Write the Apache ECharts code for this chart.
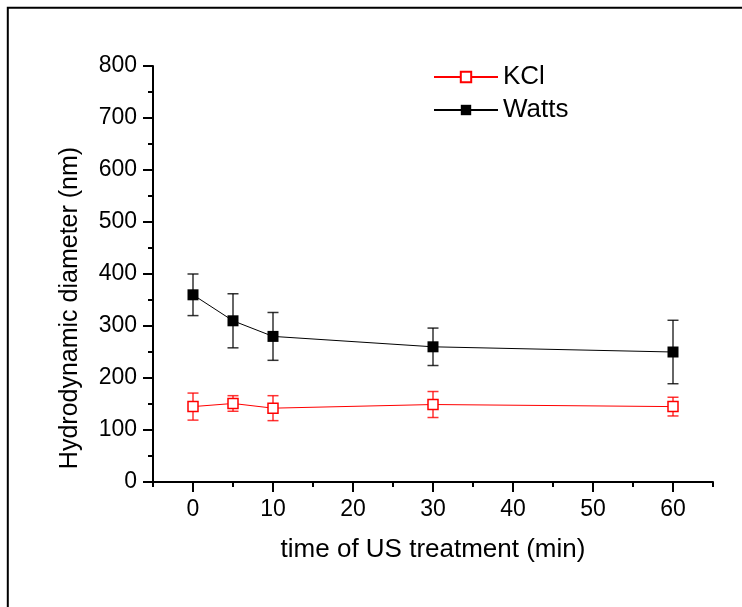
<!DOCTYPE html>
<html>
<head>
<meta charset="utf-8">
<script src="https://cdn.jsdelivr.net/npm/echarts@6/dist/echarts.min.js"></script>
<style>
  html, body { margin: 0; padding: 0; background: #fff; }
  #chart { width: 742px; height: 607px; }
</style>
</head>
<body>
<div id="chart"></div>
<script>
  // data
  const times = [0, 5, 10, 30, 60]
  const kclMean = [145, 151, 142, 149, 145]
  const kclErr = [26, 15, 24, 25, 18]
  const wattsMean = [360, 310, 280, 260, 250]
  const wattsErr = [40, 52, 46, 36, 61]
  const xMajorTicks = [0, 10, 20, 30, 40, 50, 60]

  const font = 'Liberation Sans'

  const chart = echarts.init(document.getElementById('chart'))

  // error bars through the axes' own coords
  function errorBars(means, errs, color) {
    return {
      type: 'custom',
      silent: true,
      z: 1,
      data: times.map((t, i) => [t, means[i] - errs[i], means[i] + errs[i]]),
      encode: { x: 0, y: [1, 2] },
      renderItem: (params, api) => {
        const lo = api.coord([api.value(0), api.value(1)])
        const hi = api.coord([api.value(0), api.value(2)])
        const w = 5.5
        const style = { stroke: color, lineWidth: 1.5, opacity: 0.8 }
        return {
          type: 'group',
          children: [
            { type: 'line', shape: { x1: hi[0], y1: hi[1], x2: lo[0], y2: lo[1] }, style },
            { type: 'line', shape: { x1: hi[0] - w, y1: hi[1], x2: hi[0] + w, y2: hi[1] }, style },
            { type: 'line', shape: { x1: lo[0] - w, y1: lo[1], x2: lo[0] + w, y2: lo[1] }, style }
          ]
        }
      }
    }
  }

  chart.setOption({
    animation: false,
    backgroundColor: '#fff',
    textStyle: { fontFamily: font, color: '#000' },
    grid: { left: 153, right: 29, top: 66, bottom: 125 },
    graphic: [
      {
        type: 'rect',
        shape: { x: 7.8, y: 7.8, width: 900, height: 900 },
        style: { fill: 'none', stroke: '#000', lineWidth: 2 },
        silent: true
      },
      {
        type: 'text',
        x: 70,
        y: 308,
        rotation: Math.PI / 2,
        style: {
          text: 'Hydrodynamic diameter (nm)',
          font: '25px "Liberation Sans"',
          fill: '#000',
          align: 'center',
          verticalAlign: 'middle'
        }
      }
    ],
    legend: {
      data: ['KCl', 'Watts'],
      orient: 'vertical',
      left: 433,
      top: 64,
      padding: 0,
      itemWidth: 64,
      itemHeight: 13,
      itemGap: 7,
      textStyle: { fontFamily: font, fontSize: 26, color: '#000' }
    },
    xAxis: [
      {
        type: 'value',
        min: -5,
        max: 65,
        name: 'time of US treatment (min)',
        nameLocation: 'middle',
        nameGap: 55,
        nameTextStyle: { fontFamily: font, fontSize: 26, color: '#000' },
        splitLine: { show: false },
        axisLine: { lineStyle: { color: '#000', width: 2 } },
        axisTick: { customValues: xMajorTicks, length: 10, lineStyle: { color: '#000', width: 2 } },
        axisLabel: { customValues: xMajorTicks, margin: 16, fontSize: 23, color: '#000', fontFamily: font }
      },
      {
        // minor ticks every 5
        type: 'value',
        min: -5,
        max: 65,
        interval: 5,
        position: 'bottom',
        splitLine: { show: false },
        axisLine: { show: false },
        axisTick: { length: 5, lineStyle: { color: '#000', width: 2 } },
        axisLabel: { show: false }
      }
    ],
    yAxis: {
      type: 'value',
      min: 0,
      max: 800,
      interval: 100,
      splitLine: { show: false },
      axisLine: { show: true, onZero: false, lineStyle: { color: '#000', width: 2 } },
      axisTick: { show: true, length: 10, lineStyle: { color: '#000', width: 2 } },
      minorTick: { show: true, splitNumber: 2, length: 5, lineStyle: { color: '#000', width: 2 } },
      axisLabel: { margin: 16, fontSize: 23, color: '#000', fontFamily: font }
    },
    series: [
      errorBars(kclMean, kclErr, '#ff0000'),
      errorBars(wattsMean, wattsErr, '#000000'),
      {
        name: 'KCl',
        type: 'line',
        data: times.map((t, i) => [t, kclMean[i]]),
        symbol: 'rect',
        symbolSize: 10,
        z: 3,
        lineStyle: { color: '#ff0000', width: 1 },
        itemStyle: { color: '#fff', borderColor: '#ff0000', borderWidth: 1.5 }
      },
      {
        name: 'Watts',
        type: 'line',
        data: times.map((t, i) => [t, wattsMean[i]]),
        symbol: 'rect',
        symbolSize: 11,
        z: 3,
        lineStyle: { color: '#000', width: 1 },
        itemStyle: { color: '#000' }
      }
    ]
  })
</script>
</body>
</html>
